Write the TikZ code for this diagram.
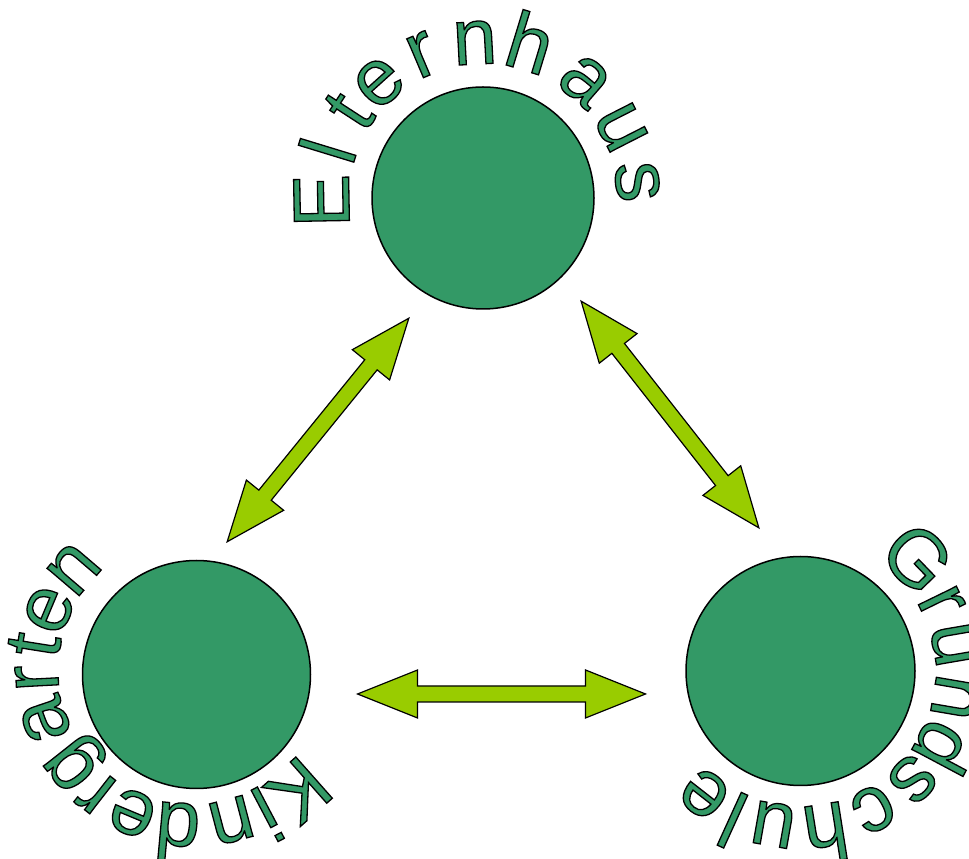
\documentclass[tikz,border=0pt]{standalone}
\usepackage{fontspec}
\setmainfont{Liberation Sans}
\definecolor{seagreen}{HTML}{339966}
\definecolor{arrowgreen}{HTML}{99CC00}
% filled glyph with a black outline
\newcommand\outl[1]{\special{pdf:literal direct 0 0 0 RG 1.3 w 2 Tr}#1\special{pdf:literal direct 0 Tr}}

\begin{document}
\begin{tikzpicture}[
    x=1pt, y=1pt,
    place/.style={circle, draw=black, line width=1.5pt, fill=seagreen, inner sep=0pt},
    letter/.style={anchor=base, inner sep=0pt, text=seagreen, font=\fontsize{80}{80}\selectfont},
    arrowbody/.style={draw=black, line width=1.2pt, fill=arrowgreen, line join=miter},
    dblarrow/.pic={
        \draw[arrowbody] (-144,0) -- (-84,24) -- (-84,8) -- (84,8) -- (84,24) -- (144,0)
            -- (84,-24) -- (84,-8) -- (-84,-8) -- (-84,-24) -- cycle;
    }
]
\useasboundingbox (0,0) rectangle (969,859);

% Places
\node[place, minimum size=222pt] (eltern) at (483,661) {};
\node[place, minimum size=228pt] (kinder) at (196.5,184.5) {};
\node[place, minimum size=229pt] (grund) at (800.5,188) {};
\coordinate (kindertext) at ([shift={(-4.5,4.5)}]kinder.center);

% Labels round the places
\foreach \ch/\ang in {E/181, l/163, t/147, e/132, r/113, n/93, h/73, a/49, u/27, s/6}
    \node[letter, rotate=\ang-90] at ([shift={(\ang:134)}]eltern.center) {\outl{\ch}};
\foreach \ch/\ang in {K/-48.5, i/-62.3, n/-75.3, d/-95.2, e/-112.6, r/-128, g/-141.6, a/-161.2, r/-177, t/-189, e/-202.8, n/-220.5}
    \node[letter, rotate=\ang-90] at ([shift={(\ang:134)}]kindertext) {\outl{\ch}};
\foreach \ch/\ang in {G/44, r/26, u/9.7, n/-9.7, d/-28, s/-44, c/-62, h/-81, u/-100, l/-114.5, e/-128}
    \node[letter, rotate=\ang-90] at ([shift={(\ang:135)}]grund.center) {\outl{\ch}};

% Exchange arrows
\pic (ek) [rotate=50.9] at (318,429) {dblarrow};
\pic (eg) [rotate=-51.9] at (670,444.5) {dblarrow};
\pic (kg) at (501.5,165) {dblarrow};

\end{tikzpicture}
\end{document}
